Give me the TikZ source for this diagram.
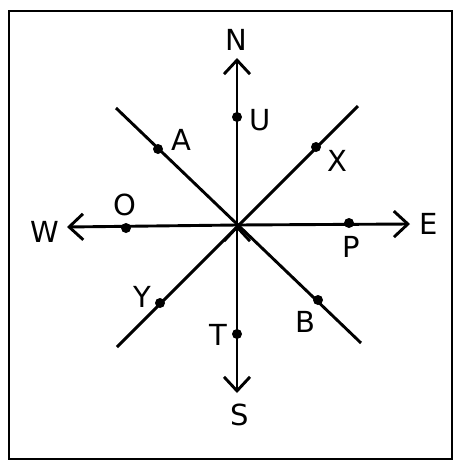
\documentclass[tikz,border=0pt]{standalone}
\usepackage{fontspec}
\setmainfont{DejaVu Sans}
\usetikzlibrary{arrows.meta}

\tikzset{
  pt/.style={circle, fill, inner sep=0, minimum size=10pt},
  lbl/.style={font=\fontsize{29}{29}\selectfont, inner sep=0},
  end/.style={inner sep=0, minimum size=0}
}

\begin{document}
\begin{tikzpicture}[x=1pt, y=-1pt, line width=2.9pt]
  \useasboundingbox (0,0) rectangle (462,472);
  \draw[line width=1.8pt] (9,11) rectangle (452,459);

  \node[end] (C) at (237, 225) {};

  \node[end] (Nt) at (237, 58) {};
  \node[end] (St) at (237, 393) {};
  \node[end] (Et) at (410, 224) {};
  \node[end] (Wt) at (67, 227) {};

  \node[end] (A1) at (116, 108) {};
  \node[end] (B1) at (361, 343) {};
  \node[end] (X1) at (358, 106) {};
  \node[end] (Y1) at (117, 347) {};

  \node[lbl] (N) at (236, 40) {N};
  \node[lbl] (S) at (240, 415) {S};
  \node[lbl] (E) at (429, 224) {E};
  \node[lbl] (W) at (45, 232) {W};

  \draw[->, line cap=round,
        >={Straight Barb[length=14pt, width=26pt, line width=2.9pt]}]
    (C.center) edge (Nt.center)
    (C.center) edge (St.center)
    (C.center) edge (Et.center)
    (C.center) edge (Wt.center);

  \draw (A1.center) -- (B1.center);
  \draw (Y1.center) -- (X1.center);

  \node[pt] (U) at (237, 117) {};
  \node[pt] (A) at (158, 149) {};
  \node[pt] (X) at (316, 147) {};
  \node[pt] (O) at (126, 228) {};
  \node[pt] (P) at (349, 223) {};
  \node[pt] (Y) at (160, 303) {};
  \node[pt] (B) at (318, 300) {};
  \node[pt] (T) at (237, 334) {};

  \node[lbl] at (260, 120) {U};
  \node[lbl] at (181, 140) {A};
  \node[lbl] at (337, 161) {X};
  \node[lbl] at (125, 205) {O};
  \node[lbl] at (351, 247) {P};
  \node[lbl] at (142, 297) {Y};
  \node[lbl] at (305, 322) {B};
  \node[lbl] at (218, 335) {T};
\end{tikzpicture}
\end{document}
